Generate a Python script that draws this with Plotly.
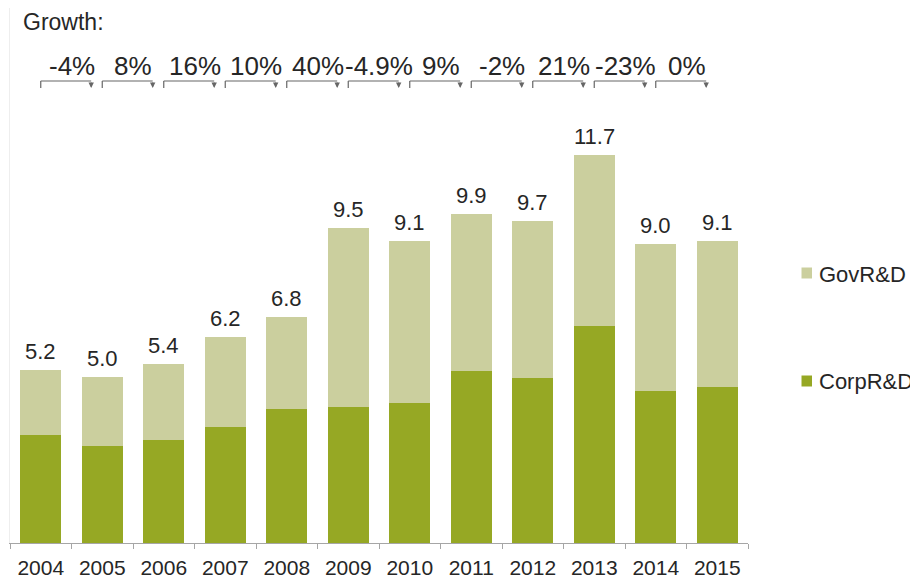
import plotly.graph_objects as go

years = ["2004", "2005", "2006", "2007", "2008", "2009", "2010", "2011", "2012", "2013", "2014", "2015"]
totals = [5.2, 5.0, 5.4, 6.2, 6.8, 9.5, 9.1, 9.9, 9.7, 11.7, 9.0, 9.1]
corp_rd = [3.24, 2.92, 3.10, 3.50, 4.03, 4.11, 4.23, 5.18, 4.97, 6.55, 4.59, 4.71]
gov_rd = [1.96, 2.08, 2.30, 2.70, 2.77, 5.39, 4.87, 4.72, 4.73, 5.15, 4.41, 4.39]
total_labels = ["5.2", "5.0", "5.4", "6.2", "6.8", "9.5", "9.1", "9.9", "9.7", "11.7", "9.0", "9.1"]
growth_labels = ["-4%", "8%", "16%", "10%", "40%", "-4.9%", "9%", "-2%", "21%", "-23%", "0%"]

CORP_COLOR = "#96A824"
GOV_COLOR = "#CBCF9E"
TEXT_COLOR = "#262626"
FONT = "Liberation Sans, Arial, sans-serif"

# page has an 8px body margin; work in page pixel coordinates
OFF = 8
W, H = 918 - OFF, 584 - OFF
PLOT_LEFT, PLOT_RIGHT, PLOT_TOP, BASE = 10, 748, 8, 543  # page px
ML = PLOT_LEFT - OFF
MR = (OFF + W) - PLOT_RIGHT
MT = PLOT_TOP - OFF
MB = (OFF + H) - BASE
PLOT_W = PLOT_RIGHT - PLOT_LEFT
PLOT_H = BASE - PLOT_TOP
PX_PER_UNIT = 33.2
Y_MAX = PLOT_H / PX_PER_UNIT


def ydat(py):
    return (BASE - py) / PX_PER_UNIT


def xpap(px):
    return (px - PLOT_LEFT) / PLOT_W


def ypap(py):
    return (BASE - py) / PLOT_H


fig = go.Figure()
fig.add_trace(go.Bar(x=years, y=corp_rd, name="CorpR&D", marker_color=CORP_COLOR,
                     marker_line_width=0, showlegend=False))
fig.add_trace(go.Bar(x=years, y=gov_rd, name="GovR&D", marker_color=GOV_COLOR,
                     marker_line_width=0, showlegend=False))

shapes = []
annotations = []

# total labels above bars
for i, (tot, lab) in enumerate(zip(totals, total_labels)):
    annotations.append(dict(text=lab, x=i, y=tot, xref="x", yref="y", xanchor="center",
                            yanchor="bottom", yshift=4, showarrow=False,
                            font=dict(size=22, color=TEXT_COLOR, family=FONT)))

# Growth header
annotations.append(dict(text="Growth:", xref="paper", yref="paper", x=xpap(21), y=ypap(22),
                        xanchor="left", yanchor="middle", showarrow=False,
                        font=dict(size=23, color=TEXT_COLOR, family=FONT)))

# growth labels and brackets
y_line = ydat(81)
y_tick = ydat(88)
for i, g in enumerate(growth_labels):
    annotations.append(dict(text=g, x=i + 0.5, y=ydat(66), xref="x", yref="y",
                            xanchor="center", yanchor="middle", showarrow=False,
                            font=dict(size=26, color=TEXT_COLOR, family=FONT)))
    x0 = i
    x1 = i + 0.82
    shapes.append(dict(type="line", xref="x", yref="y", x0=x0, x1=x0, y0=y_line, y1=y_tick,
                       line=dict(color="#666666", width=1.2)))
    shapes.append(dict(type="line", xref="x", yref="y", x0=x0, x1=x1, y0=y_line, y1=y_line,
                       line=dict(color="#666666", width=1.2)))
    annotations.append(dict(x=x1, y=y_tick, ax=x1, ay=y_line, xref="x", yref="y",
                            axref="x", ayref="y", text="", showarrow=True,
                            arrowhead=2, arrowsize=0.9, arrowwidth=1.2, arrowcolor="#666666"))

# custom legend
for name, color, cy in [("GovR&D", GOV_COLOR, 273), ("CorpR&D", CORP_COLOR, 381)]:
    shapes.append(dict(type="rect", xref="paper", yref="paper",
                       x0=xpap(801.5), x1=xpap(812), y0=ypap(cy - 5.5), y1=ypap(cy + 5.5),
                       fillcolor=color, line=dict(width=0)))
    annotations.append(dict(text=name, xref="paper", yref="paper", x=xpap(817), y=ypap(cy + 1),
                            xanchor="left", yanchor="middle", showarrow=False,
                            font=dict(size=22, color=TEXT_COLOR, family=FONT)))

fig.update_layout(
    width=W, height=H,
    margin=dict(l=ML, r=MR, t=MT, b=MB, pad=0),
    barmode="stack",
    bargap=0.333,
    plot_bgcolor="white", paper_bgcolor="white",
    font=dict(family=FONT, color=TEXT_COLOR, size=21),
    shapes=shapes,
    annotations=annotations,
    showlegend=False,
)
fig.update_xaxes(type="category", range=[-0.5, 11.5], showline=True, linecolor="#A6A6A6",
                 linewidth=1, ticks="outside", ticklen=5, tickcolor="#A6A6A6",
                 tickson="boundaries", showgrid=False, ticklabelstandoff=6,
                 tickfont=dict(size=21, color=TEXT_COLOR, family=FONT))
fig.update_yaxes(range=[0, Y_MAX], showgrid=False, zeroline=False, showticklabels=False,
                 showline=True, linecolor="#EEEEEE", linewidth=1)

fig.write_html("out.html")
